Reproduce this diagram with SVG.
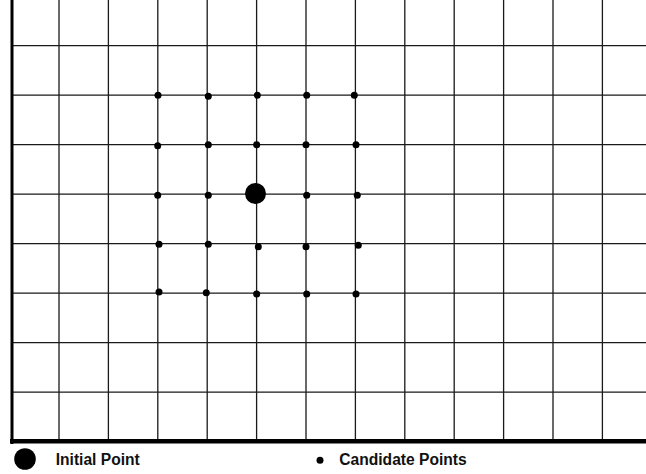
<svg xmlns="http://www.w3.org/2000/svg" width="646" height="474" viewBox="0 0 646 474">
<style>
.g{stroke:#1a1a1a;stroke-width:1.3;fill:none}
.b{stroke:#000;fill:none}
.c{fill:#000}
.t{font-family:"Liberation Sans",Arial,sans-serif;font-weight:bold;font-size:15.6px;fill:#111}
</style>
<rect width="646" height="474" fill="#fff"/>
<g id="grid" class="g">
<path d="M59 0V440M108.4 0V440M157.8 0V440M207.2 0V440M256.6 0V440M306 0V440M355.4 0V440M404.8 0V440M454.2 0V440M503.6 0V440M553 0V440M602.4 0V440"/>
<path d="M12 45.7H646M12 95.2H646M12 144.7H646M12 194.2H646M12 243.7H646M12 293.2H646M12 342.7H646M12 392.2H646"/>
</g>
<g id="axes" class="b">
<path d="M12 0V444" stroke-width="3"/>
<path d="M10 441.3H646" stroke-width="4.6"/>
</g>
<g id="candidates" class="c">
<circle cx="158" cy="95.3" r="3.5"/><circle cx="208.3" cy="96.3" r="3.5"/><circle cx="257.3" cy="95.3" r="3.5"/><circle cx="306.7" cy="95.3" r="3.5"/><circle cx="354.3" cy="95.3" r="3.5"/>
<circle cx="157.7" cy="145.7" r="3.5"/><circle cx="208.3" cy="144.7" r="3.5"/><circle cx="256.7" cy="144.7" r="3.5"/><circle cx="306" cy="144.7" r="3.5"/><circle cx="356" cy="144.7" r="3.5"/>
<circle cx="157.7" cy="195.3" r="3.5"/><circle cx="208.3" cy="195.3" r="3.5"/><circle cx="306.7" cy="195.3" r="3.5"/><circle cx="357.3" cy="195.3" r="3.5"/>
<circle cx="159" cy="244.3" r="3.5"/><circle cx="208.3" cy="244.3" r="3.5"/><circle cx="258.3" cy="246.7" r="3.5"/><circle cx="306" cy="246.7" r="3.5"/><circle cx="358.3" cy="245.3" r="3.5"/>
<circle cx="159" cy="292" r="3.5"/><circle cx="206.3" cy="292.7" r="3.5"/><circle cx="256.7" cy="294" r="3.5"/><circle cx="306.7" cy="294" r="3.5"/><circle cx="356" cy="294" r="3.5"/>
</g>
<g id="initial-point" class="c">
<circle cx="255.5" cy="193.5" r="10.5"/>
</g>
<g id="legend-initial">
<circle class="c" cx="25" cy="459" r="10.8"/>
<text class="t" x="55.7" y="464.5">Initial Point</text>
</g>
<g id="legend-candidate">
<circle class="c" cx="320" cy="460.3" r="3.5"/>
<text class="t" x="339.3" y="464.8">Candidate Points</text>
</g>
</svg>
